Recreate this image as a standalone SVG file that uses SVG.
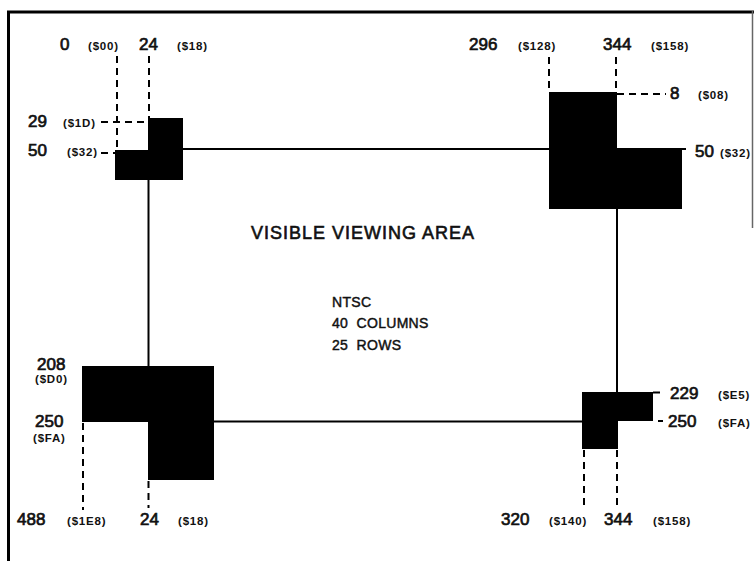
<svg xmlns="http://www.w3.org/2000/svg" width="754" height="561" viewBox="0 0 754 561">
<style>
.bg{fill:#fff}
.blk{fill:#000}
.ln{stroke:#000;stroke-width:2;fill:none}
.dl{stroke:#000;stroke-width:2;fill:none;stroke-dasharray:7 5}
.n{font-family:"Liberation Sans",Arial,sans-serif;font-size:17px;fill:#111;stroke:#111;stroke-width:0.7px}
.h{font-family:"Liberation Sans",Arial,sans-serif;font-size:11.5px;font-weight:bold;letter-spacing:0.8px;fill:#111}
.t{font-family:"Liberation Sans",Arial,sans-serif;font-size:18px;letter-spacing:1px;fill:#111;stroke:#111;stroke-width:0.6px}
.s{font-family:"Liberation Sans",Arial,sans-serif;font-size:14px;letter-spacing:0.3px;fill:#111;stroke:#111;stroke-width:0.45px}
</style>
<rect class="bg" x="0" y="0" width="754" height="561"/>
<g id="frame">
<line x1="7" y1="12" x2="754" y2="12" stroke="#000" stroke-width="3"/>
<line x1="8.5" y1="11" x2="8.5" y2="561" stroke="#000" stroke-width="3"/>
<line x1="752.5" y1="11" x2="752.5" y2="228" stroke="#666" stroke-width="1.5"/>
</g>
<g id="connectors">
<line class="ln" x1="183" y1="149" x2="549" y2="149"/>
<line class="ln" x1="148.5" y1="180" x2="148.5" y2="366"/>
<line class="ln" x1="617" y1="209" x2="617" y2="392"/>
<line class="ln" x1="214" y1="421.5" x2="582" y2="421.5"/>
<line class="dl" x1="117" y1="56" x2="117" y2="150"/>
<line class="dl" x1="149" y1="56" x2="149" y2="118"/>
<line class="dl" x1="101" y1="122" x2="148" y2="122"/>
<line class="dl" x1="101" y1="153" x2="115" y2="153" stroke-dasharray="3 4 10"/>
<line class="dl" x1="549" y1="57" x2="549" y2="92"/>
<line class="dl" x1="616" y1="57" x2="616" y2="92"/>
<line class="dl" x1="617" y1="94" x2="666" y2="94" stroke-dasharray="9 6"/>
<line class="ln" x1="682" y1="149" x2="686" y2="149"/>
<line class="dl" x1="83" y1="423" x2="83" y2="510"/>
<line class="dl" x1="148.5" y1="481" x2="148.5" y2="508"/>
<line class="ln" x1="653" y1="392.5" x2="660" y2="392.5"/>
<line class="ln" x1="658" y1="421" x2="663" y2="421"/>
<line class="dl" x1="584" y1="450" x2="584" y2="508"/>
<line class="dl" x1="617" y1="450" x2="617" y2="508"/>
</g>
<g id="block-top-left"><polygon class="blk" points="148,118 183,118 183,180 115,180 115,150 148,150"/></g>
<g id="block-top-right"><polygon class="blk" points="549,92 617,92 617,148 682,148 682,209 549,209"/></g>
<g id="block-bottom-left"><polygon class="blk" points="82,366 214,366 214,480 148,480 148,422 82,422"/></g>
<g id="block-bottom-right"><polygon class="blk" points="582,392 653,392 653,421 618,421 618,449 582,449"/></g>
<g id="labels-top">
<text class="n" x="60" y="50">0</text><text class="h" x="88" y="50">($00)</text>
<text class="n" x="139" y="50">24</text><text class="h" x="177" y="50">($18)</text>
<text class="n" x="469" y="50">296</text><text class="h" x="518" y="50">($128)</text>
<text class="n" x="603" y="50">344</text><text class="h" x="651" y="50">($158)</text>
</g>
<g id="labels-left">
<text class="n" x="28" y="127">29</text><text class="h" x="63" y="127">($1D)</text>
<text class="n" x="28" y="156">50</text><text class="h" x="67" y="156">($32)</text>
<text class="n" x="37" y="370">208</text><text class="h" x="35" y="383">($D0)</text>
<text class="n" x="35" y="427">250</text><text class="h" x="33" y="442">($FA)</text>
</g>
<g id="labels-right">
<text class="n" x="670" y="99">8</text><text class="h" x="698" y="99">($08)</text>
<text class="n" x="695" y="157">50</text><text class="h" x="720" y="157">($32)</text>
<text class="n" x="670" y="399">229</text><text class="h" x="718" y="399">($E5)</text>
<text class="n" x="668" y="427">250</text><text class="h" x="718" y="427">($FA)</text>
</g>
<g id="labels-bottom">
<text class="n" x="17" y="525">488</text><text class="h" x="67" y="525">($1E8)</text>
<text class="n" x="140" y="525">24</text><text class="h" x="178" y="525">($18)</text>
<text class="n" x="501" y="525">320</text><text class="h" x="549" y="525">($140)</text>
<text class="n" x="604" y="525">344</text><text class="h" x="653" y="525">($158)</text>
</g>
<g id="visible-area">
<text class="t" x="251" y="239">VISIBLE VIEWING AREA</text>
<text class="s" x="332" y="307">NTSC</text>
<text class="s" x="332" y="328" xml:space="preserve">40  COLUMNS</text>
<text class="s" x="332" y="350" xml:space="preserve">25  ROWS</text>
</g>
</svg>
